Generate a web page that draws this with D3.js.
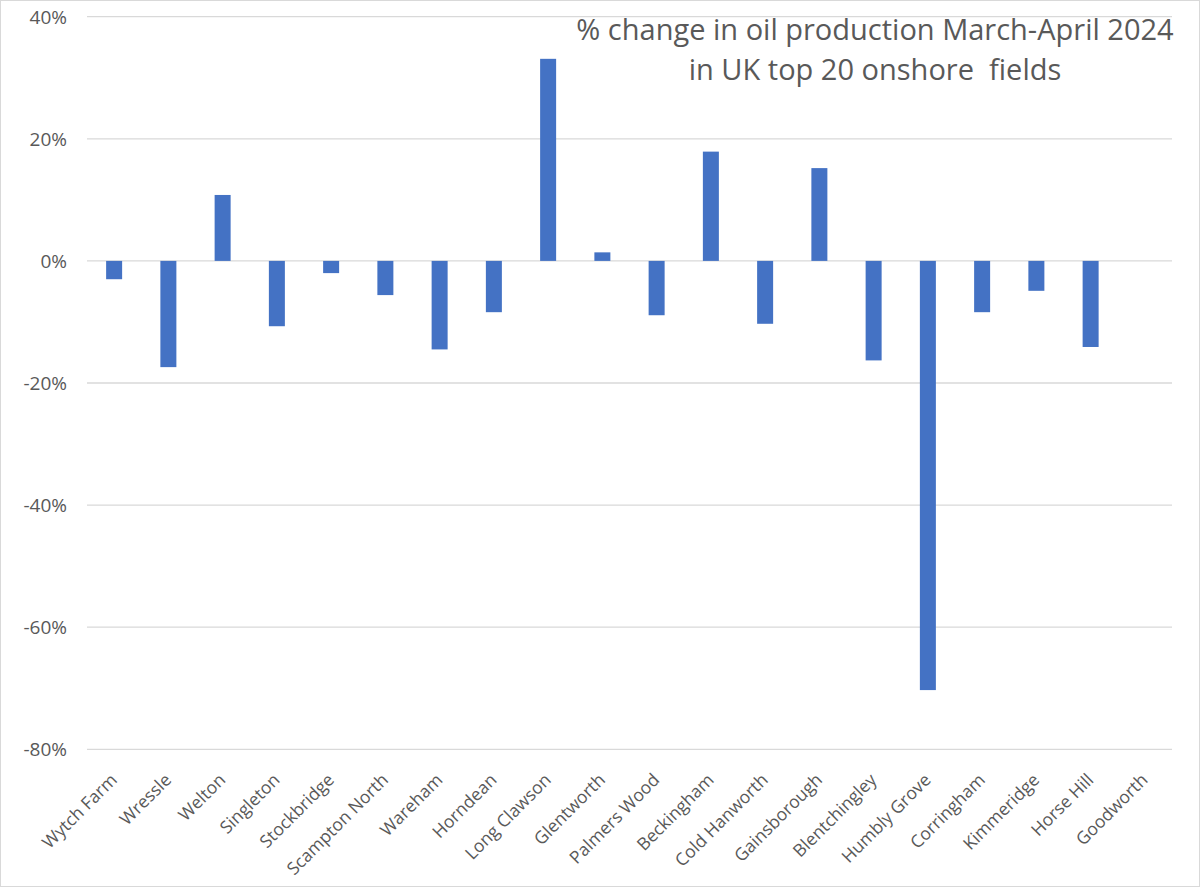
<!DOCTYPE html>
<html><head><meta charset="utf-8">
<script src="https://cdn.jsdelivr.net/npm/d3@7"></script>
<style>body{margin:0;background:#fff}svg{display:block}text.title{white-space:pre}</style>
</head><body>
<svg id="c" width="1200" height="887"></svg>
<script>
const categories = ["Wytch Farm","Wressle","Welton","Singleton","Stockbridge","Scampton North","Wareham","Horndean","Long Clawson","Glentworth","Palmers Wood","Beckingham","Cold Hanworth","Gainsborough","Blentchingley","Humbly Grove","Corringham","Kimmeridge","Horse Hill","Goodworth"];
const values = [-3.0,-17.4,10.8,-10.7,-2.0,-5.6,-14.5,-8.4,33.1,1.4,-8.9,17.9,-10.3,15.2,-16.3,-70.3,-8.4,-4.9,-14.1,0];
const yTicks = [40,20,0,-20,-40,-60,-80];
const titleLines = ["% change in oil production March-April 2024","in UK top 20 onshore  fields"];

const svg = d3.select("#c");
const W=1200,H=887;
const font = "'Open Sans', sans-serif";
svg.append("rect").attr("x",0.5).attr("y",0.5).attr("width",W-1).attr("height",H-1).attr("fill","#fff").attr("stroke","#d9d9d9");

const x = d3.scaleBand().domain(categories).range([87,1172]).paddingInner(0.705).paddingOuter(0.3525);
const y = d3.scaleLinear().domain([-80,40]).range([749.3,16.7]);

const g = svg.append("g");
g.selectAll("line.grid").data(yTicks).join("line").attr("class","grid")
 .attr("x1",87).attr("x2",1172).attr("y1",d=>y(d)).attr("y2",d=>y(d))
 .attr("stroke","#d9d9d9").attr("stroke-width",1.3);

g.selectAll("text.yl").data(yTicks).join("text").attr("class","yl")
 .attr("x",67).attr("y",d=>y(d)).attr("dy","0.36em").attr("text-anchor","end")
 .attr("font-family",font).attr("font-size",19).attr("fill","#595959")
 .text(d=>d+"%");

g.selectAll("rect.bar").data(values).join("rect").attr("class","bar")
 .attr("x",(d,i)=>x(categories[i])).attr("width",x.bandwidth())
 .attr("y",d=>y(Math.max(0,d))).attr("height",d=>Math.abs(y(d)-y(0)))
 .attr("fill","#4472c4");

g.selectAll("text.xl").data(categories).join("text").attr("class","xl")
 .attr("text-anchor","end")
 .attr("transform",d=>`translate(${x(d)+x.bandwidth()/2+4},${781}) rotate(-45)`)
 .attr("font-family",font).attr("font-size",17.5).attr("fill","#595959")
 .text(d=>d);

svg.selectAll("text.title").data(titleLines).join("text").attr("class","title")
 .attr("x",875).attr("y",(d,i)=>40+i*40).attr("text-anchor","middle")
 .attr("font-family",font).attr("font-size",29).attr("fill","#595959")
 .text(d=>d);
</script>
</body></html>
